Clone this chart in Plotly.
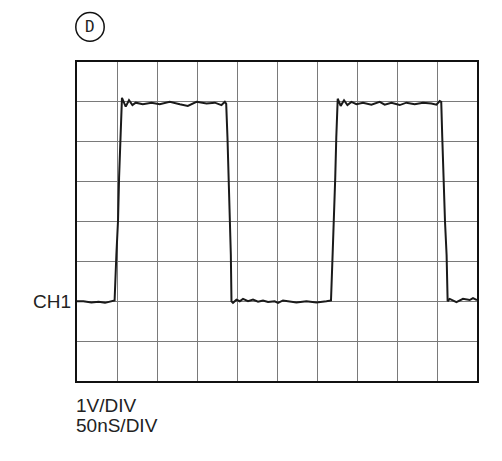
"""Oscilloscope trace (panel D): CH1 square wave, 1V/DIV, 50nS/DIV."""
import plotly.graph_objects as go

# time in ns, voltage in V (CH1 ground at 0 V)
time_ns = [
    0, 8, 18, 27, 35, 42, 47,
    49.2, 51.3, 52.6, 54.3, 56.2,
    60.9, 65, 69.3, 73.4, 82.2, 93.1, 103.5, 116, 128.5, 138.5, 149.4,
    161.9, 172.3, 180.6, 184.8, 186.5,
    188.1, 189.8, 191.0, 192.3, 193.1,
    195, 199.3, 203.4, 207.5, 213.8, 220, 226.3, 232.5, 238.8, 247.1,
    251.3, 257.5, 265.9, 274.3, 286.8, 299.3, 311.8, 316, 317.5,
    319.5, 321.2, 322.8, 324.1, 325.9,
    329.6, 333.8, 338, 343, 349.3, 357.5, 368, 378.4, 384.6, 393, 403.4,
    411.8, 422.1, 432.5, 443, 449.3, 453.4, 455.3,
    456.6, 457.9, 460, 462, 463.3,
    465.9, 474.3, 482.5, 490.9, 495, 500,
]
volts = [
    0.0, 0.0, -0.03, -0.01, -0.04, -0.01, 0.02,
    1.16, 2.03, 3.1, 4.1, 5.1,
    4.88, 5.04, 4.92, 4.98, 4.94, 4.98, 4.94, 5.0, 4.94, 4.9, 5.0,
    4.96, 4.98, 4.92, 5.0, 4.95,
    4.1, 3.1, 2.0, 1.16, 0.0,
    -0.04, 0.04, 0.0, 0.06, 0.0, 0.04, -0.01, 0.02, -0.02, 0.0,
    -0.04, 0.02, 0.0, -0.03, 0.0, -0.03, 0.0, 0.02, 0.02,
    1.16, 2.03, 3.1, 4.1, 5.08,
    4.9, 5.04, 4.92, 5.0, 4.94, 4.98, 4.93, 5.0, 4.93, 4.98, 4.92,
    4.98, 4.94, 4.98, 4.96, 4.93, 5.02, 5.0,
    4.1, 3.1, 2.0, 1.16, 0.0,
    0.06, -0.02, 0.06, 0.03, 0.08, 0.03,
]

scale_labels = ["1V/DIV", "50nS/DIV"]
channel_label = "CH1"
panel_label = "D"

TEXT = "#222222"
FONT = "Liberation Sans, Arial, sans-serif"

fig = go.Figure()

fig.add_trace(go.Scatter(
    x=time_ns, y=volts,
    mode="lines",
    line=dict(color="#1a1a1a", width=2),
    hoverinfo="skip",
    showlegend=False,
))

axis_common = dict(
    showgrid=True, gridcolor="#7a7a7a", gridwidth=1,
    showticklabels=False, ticks="", zeroline=False,
    showline=True, mirror=True, linecolor="#111111", linewidth=2,
    fixedrange=True,
)

fig.update_xaxes(range=[0, 500], dtick=50, tick0=0, **axis_common)
fig.update_yaxes(range=[-2, 6], dtick=1, tick0=-2, **axis_common)

fig.add_annotation(
    text=channel_label, xref="paper", yref="y", x=-0.01, y=0,
    xanchor="right", yanchor="middle", showarrow=False,
    font=dict(size=19, color=TEXT, family=FONT),
)
for i, lbl in enumerate(scale_labels):
    fig.add_annotation(
        text=lbl, xref="paper", yref="paper", x=-0.008, y=-0.078 - i * 0.063,
        xanchor="left", yanchor="middle", showarrow=False,
        font=dict(size=19, color=TEXT, family=FONT),
    )

# circled panel letter
fig.add_shape(
    type="circle", xref="paper", yref="paper",
    x0=-0.003, x1=0.068, y0=1.065, y1=1.155,
    line=dict(color="#111111", width=1.5),
)
fig.add_annotation(
    text=panel_label, xref="paper", yref="paper", x=0.0325, y=1.11,
    xanchor="center", yanchor="middle", showarrow=False,
    font=dict(size=16, color=TEXT, family="DejaVu Sans Mono, monospace"),
)

# page body keeps an 8px margin, so the figure is shrunk to fit the window
fig.update_layout(
    width=494, height=453,
    margin=dict(l=69, r=25, t=54, b=80),
    paper_bgcolor="white", plot_bgcolor="white",
    showlegend=False,
)

fig.write_html("out.html")
